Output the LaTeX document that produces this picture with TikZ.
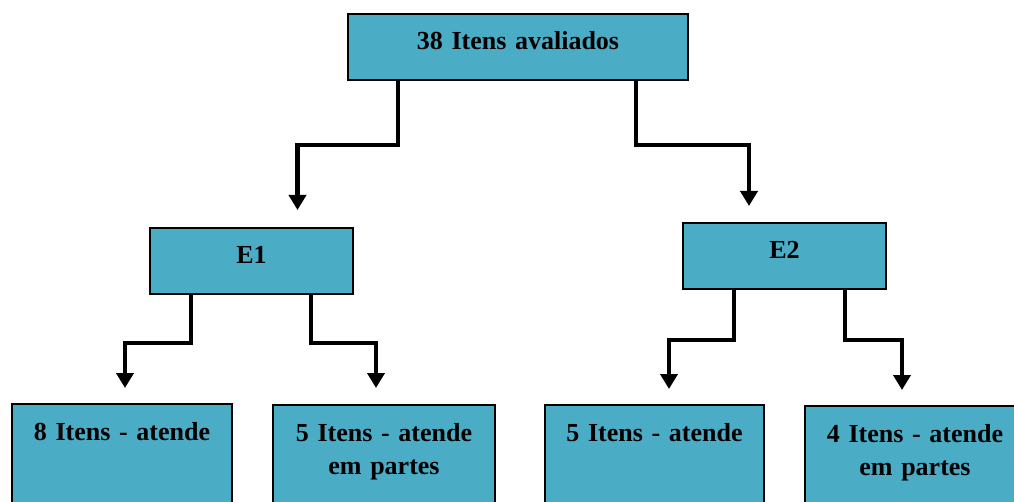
\documentclass[tikz,border=0pt]{standalone}
\usepackage{fontspec}
\setmainfont{Liberation Serif}
\usetikzlibrary{positioning, arrows.meta}
\usepackage{xcolor}
\definecolor{caixaAzul}{HTML}{4BACC6}

\begin{document}
\begin{tikzpicture}[
    x=1pt, y=-1pt,
    >={Triangle[width=17pt,length=15pt]},
    every node/.style={font=\fontsize{26}{33}\selectfont\bfseries},
    caixa/.style={draw=black, fill=caixaAzul, line width=2pt, inner xsep=0pt, inner ysep=15pt, text height=21pt, align=center, anchor=north west},
    seta/.style={->, draw=black, line width=4.5pt, line join=miter}
]
    \useasboundingbox (0,0) rectangle (1014,502);

    \node[caixa, text width=340pt, text depth=15pt] (T) at (347,13) {38 Itens avaliados};
    \node[caixa, text width=203pt, text depth=15pt] (E1) at (149,227) {E1};
    \node[caixa, text width=203pt, text depth=15pt] (E2) at (682,222) {E2};
    \node[caixa, text width=220pt, text depth=70pt] (A1) at (11,403) {8 Itens - atende};
    \node[caixa, text width=222pt, text depth=70pt] (A2) at (272,404) {5 Itens - atende\\em partes};
    \node[caixa, text width=219pt, text depth=70pt] (A3) at (544,404) {5 Itens - atende};
    \node[caixa, text width=220pt, text depth=70pt] (A4) at (804,405) {4 Itens - atende\\em partes};

    \draw[seta] ([xshift=-120pt]T.south) -- ++(0,64) -| ([xshift=46pt,yshift=17pt]E1.north);
    \draw[seta] ([xshift=118pt]T.south) -- ++(0,64) -| ([xshift=-35.5pt,yshift=16pt]E2.north);

    \draw[seta] ([xshift=-60.5pt]E1.south) -- ++(0,48) -| ([xshift=3pt,yshift=15pt]A1.north);
    \draw[seta] ([xshift=59.5pt]E1.south) -- ++(0,48) -| ([xshift=-8pt,yshift=16pt]A2.north);
    \draw[seta] ([xshift=-50.5pt]E2.south) -- ++(0,50) -| ([xshift=14.5pt,yshift=15pt]A3.north);
    \draw[seta] ([xshift=60.5pt]E2.south) -- ++(0,50) -| ([xshift=-13pt,yshift=15pt]A4.north);
\end{tikzpicture}
\end{document}
